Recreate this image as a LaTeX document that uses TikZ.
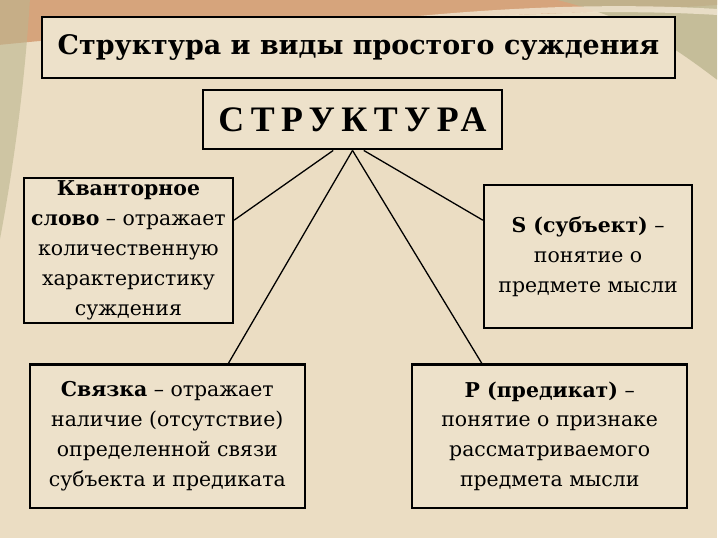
\documentclass[tikz,border=0pt]{standalone}
\usepackage{fontspec}
\setmainfont{DejaVu Serif}
\newfontfamily\headfont{Liberation Serif}
\usetikzlibrary{positioning}

\definecolor{bgbeige}{HTML}{EBDDC3}
\definecolor{boxbeige}{HTML}{EDE1CA}
\definecolor{swooshtan}{HTML}{D6A47C}
\definecolor{swoosholive}{HTML}{BCB58F}
\definecolor{swooshcream}{HTML}{F1E6D2}

\tikzset{
  frame/.style={draw=black, line width=2.2pt, fill=boxbeige, align=center, inner sep=2pt},
  body/.style={font=\fontsize{20.5}{30}\selectfont},
  link/.style={line width=1.3pt},
}

\begin{document}
\begin{tikzpicture}[x=1pt, y=-1pt]
  % background
  \fill[bgbeige] (0,0) rectangle (720,540);
  \fill[swooshtan] (0,0) -- (720,0) -- (720,5) .. controls (500,20) and (300,15) .. (0,45) -- cycle;
  \fill[swoosholive, opacity=.8] (560,0) -- (720,0) -- (720,80) .. controls (680,50) and (640,20) .. (560,0) -- cycle;
  \fill[swoosholive, opacity=.6] (0,0) -- (30,0) .. controls (25,80) and (15,160) .. (0,240) -- cycle;
  \draw[swooshcream, line width=6pt, opacity=.8] (250,40) .. controls (450,10) and (600,5) .. (720,12);
  \useasboundingbox (0,0) rectangle (720,540);

  % boxes
  \node[frame, minimum width=636pt, minimum height=61pt, font=\bfseries\fontsize{27}{27}\selectfont] (title) at (360,47.5) {Структура и виды простого суждения};
  \node[frame, minimum width=300pt, minimum height=60pt, font=\headfont\bfseries\fontsize{36}{36}\selectfont\addfontfeature{LetterSpace=18}] (struct) at (354,120) {СТРУКТУРА};

  \node[frame, body, minimum width=210pt, minimum height=145pt] (kvant) at (129,251.5)
    {\textbf{Кванторное}\\ \textbf{слово} – отражает\\ количественную\\ характеристику\\ суждения};
  \node[frame, body, minimum width=209pt, minimum height=143pt] (subj) at (590.5,257.5)
    {\textbf{S (субъект)} –\\ понятие о\\ предмете мысли};
  \node[frame, body, minimum width=276pt, minimum height=144pt] (svyaz) at (168,438)
    {\textbf{Связка} – отражает\\ наличие (отсутствие)\\ определенной связи\\ субъекта и предиката};
  \node[frame, body, minimum width=276pt, minimum height=144pt] (pred) at (552,438)
    {\textbf{P (предикат)} –\\ понятие о признаке\\ рассматриваемого\\ предмета мысли};

  % links
  \draw[link] (struct.238) -- (kvant.16);
  \draw[link] (struct.south) -- (svyaz.50);
  \draw[link] (struct.south) -- (pred.133);
  \draw[link] (struct.290) -- (subj.161);
\end{tikzpicture}
\end{document}
